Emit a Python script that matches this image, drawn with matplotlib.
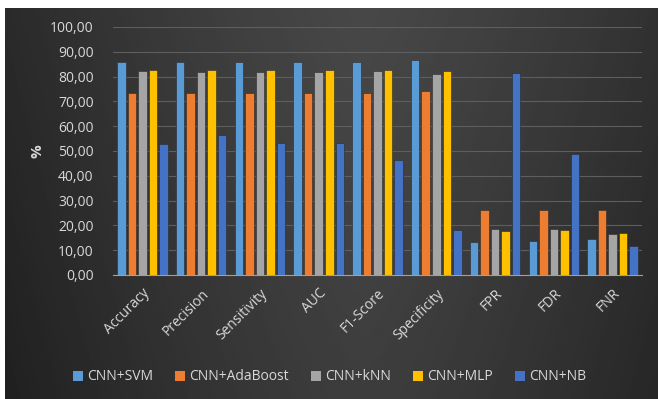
import matplotlib.pyplot as plt
import numpy as np

plt.rcParams['font.family'] = ['Open Sans', 'DejaVu Sans']

# metric names and scores (%) for each classifier
metrics = ['Accuracy', 'Precision', 'Sensitivity', 'AUC', 'F1-Score',
           'Specificity', 'FPR', 'FDR', 'FNR']
cnn_svm = [86.0, 86.0, 86.0, 86.0, 86.0, 86.6, 13.2, 13.7, 14.5]
cnn_adaboost = [73.5, 73.5, 73.5, 73.5, 73.5, 74.1, 26.2, 26.2, 26.2]
cnn_knn = [82.1, 82.0, 82.0, 82.0, 82.1, 81.0, 18.5, 18.5, 16.7]
cnn_mlp = [82.5, 82.5, 82.5, 82.5, 82.5, 82.1, 17.6, 18.0, 17.1]
cnn_nb = [52.8, 56.5, 53.3, 53.3, 46.2, 18.1, 81.5, 48.7, 11.6]

series = [cnn_svm, cnn_adaboost, cnn_knn, cnn_mlp, cnn_nb]
names = ['CNN+SVM', 'CNN+AdaBoost', 'CNN+kNN', 'CNN+MLP', 'CNN+NB']
colors = ['#5B9BD5', '#ED7D31', '#A5A5A5', '#FFC000', '#4472C4']
text_color = '#D9D9D9'

fig = plt.figure(figsize=(6.59, 3.99), dpi=100, facecolor='white')

# dark gradient backdrop
bg = fig.add_axes([5 / 659, 0, 653 / 659, 391 / 399])
xx = np.linspace(-1, 1, 300)
yy = np.linspace(-1, 1, 200)
X, Y = np.meshgrid(xx, yy)
shade = 0.26 - 0.10 * np.abs(X - 0.1) ** 1.3 - 0.02 * Y
bg.imshow(shade, cmap='gray', vmin=0, vmax=1, aspect='auto', extent=[0, 1, 0, 1])
bg.axis('off')

ax = fig.add_axes([113 / 659, 124 / 399, 529 / 659, 248 / 399])
ax.patch.set_alpha(0)

x = np.arange(len(metrics))
slot = 0.179
width = 0.145
for i, (vals, name, c) in enumerate(zip(series, names, colors)):
    ax.bar(x + (i - 2) * slot, vals, width, color=c, label=name,
           edgecolor='#2a2a2a', linewidth=0.4, zorder=3)

ax.set_xlim(-0.5, len(metrics) - 0.5)
ax.set_ylim(0, 100)
ax.set_yticks(np.arange(0, 101, 10))
ax.set_yticklabels([f'{v:.2f}'.replace('.', ',') for v in np.arange(0, 101, 10)])
ax.yaxis.grid(True, color='#5E5E5E', linewidth=0.8, zorder=0)
ax.set_xticks(x)
ax.set_xticklabels(metrics, rotation=45, ha='right', rotation_mode='anchor')

ax.tick_params(axis='y', length=0, pad=14, labelsize=10, labelcolor=text_color)
ax.tick_params(axis='x', length=0, pad=8, labelsize=10, labelcolor=text_color)
for side in ['top', 'right', 'left']:
    ax.spines[side].set_visible(False)
ax.spines['bottom'].set_color('#A89F8F')
ax.spines['bottom'].set_zorder(4)

ax.set_ylabel('%', color=text_color, fontsize=11, fontweight='bold', labelpad=4)

leg = fig.legend(loc='center', bbox_to_anchor=(0.5, 22 / 399), ncol=5,
                 frameon=False, fontsize=10, handlelength=0.7, handleheight=0.7,
                 handletextpad=0.3, columnspacing=1.6)
for t in leg.get_texts():
    t.set_color(text_color)
for h in leg.legend_handles:
    h.set_edgecolor('none')

fig.savefig('out.png', dpi=100, facecolor='white')
